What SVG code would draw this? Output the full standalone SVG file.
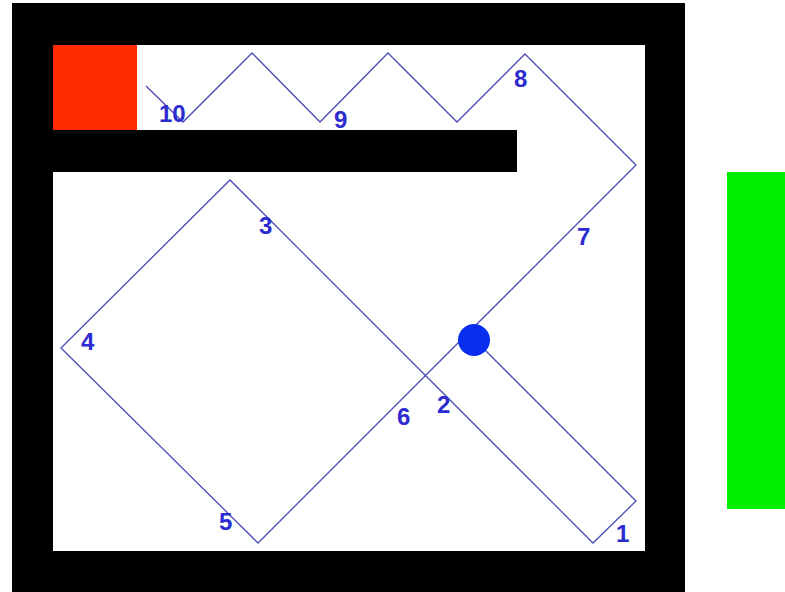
<svg xmlns="http://www.w3.org/2000/svg" width="785" height="592" viewBox="0 0 785 592">
<style>
.wall{fill:#000}
.lbl{font-family:"Liberation Sans",Arial,sans-serif;font-size:24px;font-weight:bold;fill:#2b2bd0}
.path{fill:none;stroke:#4a4ab8;stroke-width:1.3;stroke-linejoin:miter}
</style>
<rect width="785" height="592" fill="#fff"/>
<g id="frame">
<path class="wall" fill-rule="evenodd" d="M12,3 H685 V592 H12 Z M53,45 V551 H645 V45 Z"/>
<rect class="wall" x="53" y="130" width="464" height="42"/>
</g>
<g id="start"><rect x="53" y="45" width="84" height="85" fill="#ff2a00"/></g>
<g id="goal"><rect x="727" y="172" width="58" height="337" fill="#00ee00"/></g>
<g id="connectors">
<path class="path" d="M146,86 L183,122 L252,53 L320,122 L388,53 L457,122 L525,54 L636,165 L258,543 L61,348 L230,180 L593,543 L636,501 L474,339"/>
</g>
<g id="robot"><circle cx="474" cy="340" r="16" fill="#0a2ef0"/></g>
<g id="labels">
<text class="lbl" x="159" y="122">10</text>
<text class="lbl" x="334" y="128">9</text>
<text class="lbl" x="514" y="87">8</text>
<text class="lbl" x="577" y="245">7</text>
<text class="lbl" x="397" y="425">6</text>
<text class="lbl" x="219" y="530">5</text>
<text class="lbl" x="81" y="350">4</text>
<text class="lbl" x="259" y="234">3</text>
<text class="lbl" x="437" y="413">2</text>
<text class="lbl" x="616" y="542">1</text>
</g>
</svg>
